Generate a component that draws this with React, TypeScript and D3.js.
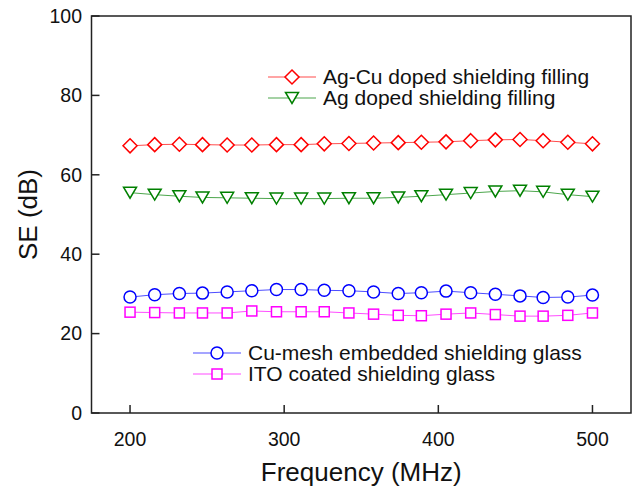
import * as d3 from "d3";
import React from "react";

const freq = [200, 216, 232, 247, 263, 279, 295, 311, 326, 342, 358, 374, 389, 405, 421, 437, 453, 468, 484, 500];
const agCu = [67.3, 67.6, 67.7, 67.6, 67.5, 67.5, 67.6, 67.6, 67.8, 67.9, 68.0, 68.1, 68.2, 68.3, 68.6, 68.8, 68.9, 68.6, 68.2, 67.8];
const agDoped = [55.5, 55.0, 54.6, 54.3, 54.2, 54.1, 54.0, 54.0, 54.0, 54.1, 54.1, 54.3, 54.6, 55.0, 55.4, 55.8, 56.0, 55.7, 55.0, 54.5];
const cuMesh = [29.2, 29.8, 30.1, 30.2, 30.5, 30.8, 31.1, 31.1, 30.9, 30.8, 30.5, 30.1, 30.3, 30.7, 30.3, 29.9, 29.5, 29.1, 29.2, 29.7];
const ito = [25.4, 25.3, 25.2, 25.2, 25.2, 25.7, 25.5, 25.5, 25.5, 25.2, 24.9, 24.6, 24.5, 24.9, 25.2, 24.8, 24.4, 24.4, 24.6, 25.2];
const xTickVals = [200, 300, 400, 500];
const yTickVals = [0, 20, 40, 60, 80, 100];

const font = "Arial, 'Liberation Sans', sans-serif";

function marker(shape, cx, cy, color, key) {
  const sw = 1.5;
  if (shape === "diamond") {
    const r = 7;
    return <path key={key} d={`M${cx},${cy - r}L${cx + r},${cy}L${cx},${cy + r}L${cx - r},${cy}Z`} fill="white" stroke={color} strokeWidth={sw} />;
  }
  if (shape === "tri") {
    const w = 6.5, h = 5.5;
    return <path key={key} d={`M${cx - w},${cy - h}L${cx + w},${cy - h}L${cx},${cy + h}Z`} fill="white" stroke={color} strokeWidth={sw} />;
  }
  if (shape === "circle") {
    return <circle key={key} cx={cx} cy={cy} r={6} fill="white" stroke={color} strokeWidth={sw} />;
  }
  return <rect key={key} x={cx - 5} y={cy - 5} width={10} height={10} fill="white" stroke={color} strokeWidth={sw} />;
}

export default function App() {
  const left = 91.5, right = 631, top = 16, bottom = 413;
  const x = d3.scaleLinear().domain([175, 525]).range([left, right]);
  const y = d3.scaleLinear().domain([0, 100]).range([bottom, top]);

  const series = [
    { label: "Ag-Cu doped shielding filling", values: agCu, color: "#ff0000", shape: "diamond" },
    { label: "Ag doped shielding filling", values: agDoped, color: "#008000", shape: "tri" },
    { label: "Cu-mesh embedded shielding glass", values: cuMesh, color: "#0000ff", shape: "circle" },
    { label: "ITO coated shielding glass", values: ito, color: "#ff00ff", shape: "square" },
  ];

  const line = d3.line().x((d) => x(d[0])).y((d) => y(d[1]));

  // legend boxes sit inside the frame
  const legends = [
    { s: series[0], lx: 268, ly: 77 },
    { s: series[1], lx: 268, ly: 98 },
    { s: series[2], lx: 193, ly: 353 },
    { s: series[3], lx: 193, ly: 374 },
  ];

  return (
    <svg width={636} height={492} style={{ position: "absolute", left: 0, top: 0, background: "white" }} fontFamily={font}>
      {series.map((s, i) => (
        <g key={i}>
          <path d={line(freq.map((f, j) => [f, s.values[j]]))} fill="none" stroke={s.color} strokeWidth={1} opacity={0.7} />
          {freq.map((f, j) => marker(s.shape, x(f), y(s.values[j]), s.color, j))}
        </g>
      ))}

      <rect x={left} y={top} width={right - left} height={bottom - top} fill="none" stroke="#222" strokeWidth={1.5} />
      {xTickVals.map((t) => (
        <g key={t}>
          <line x1={x(t)} x2={x(t)} y1={bottom} y2={bottom - 8} stroke="#222" strokeWidth={1.5} />
          <text x={x(t)} y={446} textAnchor="middle" fontSize={19.5} fill="#111">{t}</text>
        </g>
      ))}
      {yTickVals.map((t) => (
        <g key={t}>
          <line x1={left} x2={left + 8} y1={y(t)} y2={y(t)} stroke="#222" strokeWidth={1.5} />
          <text x={82} y={y(t)} dy="0.35em" textAnchor="end" fontSize={19.5} fill="#111">{t}</text>
        </g>
      ))}

      <text x={(left + right) / 2} y={481} textAnchor="middle" fontSize={26} fill="#111">Frequency (MHz)</text>
      <text transform={`translate(37,${(top + bottom) / 2}) rotate(-90)`} textAnchor="middle" fontSize={26} fill="#111">SE (dB)</text>

      {legends.map((l, i) => (
        <g key={i}>
          <line x1={l.lx} x2={l.lx + 48} y1={l.ly} y2={l.ly} stroke={l.s.color} strokeWidth={1} opacity={0.7} />
          {marker(l.s.shape, l.lx + 24, l.ly, l.s.color, "m")}
          <text x={l.lx + 55} y={l.ly} dy="0.35em" fontSize={21} fill="#111">{l.s.label}</text>
        </g>
      ))}
    </svg>
  );
}
